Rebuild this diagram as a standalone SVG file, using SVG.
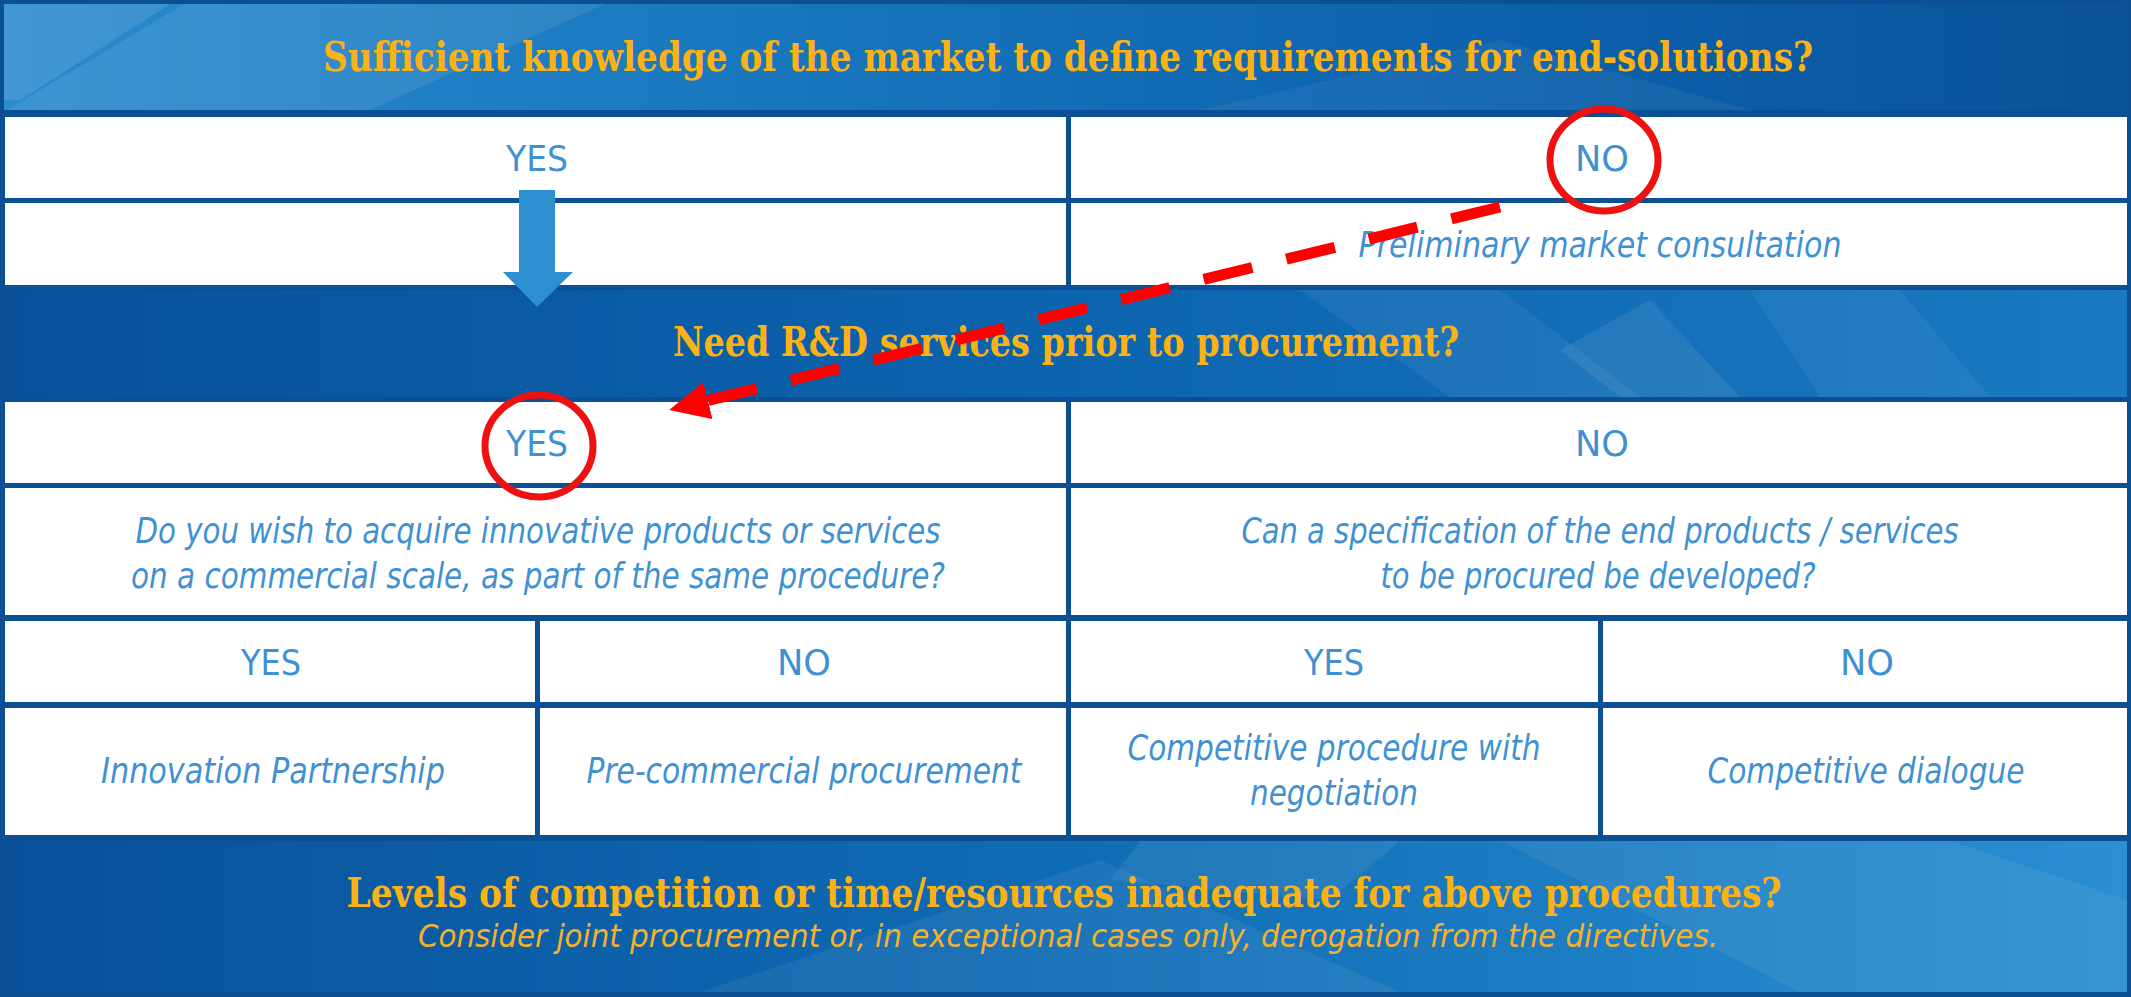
<svg xmlns="http://www.w3.org/2000/svg" width="2131" height="997" viewBox="0 0 2131 997">
<style>
.title{font-family:"DejaVu Serif Condensed","DejaVu Serif","Liberation Serif",serif;font-weight:bold;font-size:41px;fill:#fbb216;text-anchor:middle}
.sub{font-family:"Liberation Sans Narrow","DejaVu Sans Condensed","Open Sans",sans-serif;font-style:italic;font-size:32px;fill:#f5b12a;text-anchor:middle}
.cell{fill:#ffffff}
.lbl{font-family:"Liberation Sans Narrow","DejaVu Sans Condensed","Open Sans",sans-serif;font-size:35px;fill:#3f91d2;text-anchor:middle}
.it{font-style:italic}
.ring{fill:none;stroke:#ee1111;stroke-width:7}
.deco{fill:#ffffff}
</style>
<defs>
<linearGradient id="g1" x1="0" y1="0" x2="1" y2="0">
<stop offset="0" stop-color="#2c8bcf"/>
<stop offset="0.35" stop-color="#1877bd"/>
<stop offset="0.7" stop-color="#0c62ad"/>
<stop offset="1" stop-color="#0a5299"/>
</linearGradient>
<linearGradient id="g2" x1="0" y1="0" x2="1" y2="0">
<stop offset="0" stop-color="#08519a"/>
<stop offset="0.5" stop-color="#0c64ae"/>
<stop offset="1" stop-color="#1a79c0"/>
</linearGradient>
<linearGradient id="g3" x1="0" y1="0" x2="1" y2="0">
<stop offset="0" stop-color="#08519a"/>
<stop offset="0.5" stop-color="#0f6cb4"/>
<stop offset="1" stop-color="#2c8fd2"/>
</linearGradient>
<marker id="redHead" markerUnits="userSpaceOnUse" markerWidth="40" markerHeight="38" viewBox="0 0 40 38" refX="2" refY="19" orient="auto">
<path d="M0,0 L40,19 L0,38 z" fill="#ff0000"/>
</marker>
</defs>

<rect x="0" y="0" width="2131" height="997" fill="#0b4f94"/>

<g id="band-market">
<rect x="4" y="4" width="2123" height="106" fill="url(#g1)"/>
<polygon class="deco" opacity="0.10" points="4,4 170,4 20,100 4,100"/>
<polygon class="deco" opacity="0.08" points="184,4 605,4 370,110 7,110"/>
<polygon class="deco" opacity="0.05" points="1200,110 1500,40 1750,110"/>
<text class="title" x="1068" y="71" textLength="1490" lengthAdjust="spacingAndGlyphs">Sufficient knowledge of the market to define requirements for end-solutions?</text>
</g>

<g id="yes1"><rect class="cell" x="5" y="117" width="1061" height="81"/><text class="lbl" x="537" y="171" textLength="62" lengthAdjust="spacingAndGlyphs">YES</text></g>
<g id="no1"><rect class="cell" x="1071" y="117" width="1056" height="81"/><text class="lbl" x="1602" y="171" textLength="54" lengthAdjust="spacingAndGlyphs">NO</text></g>
<g id="empty1"><rect class="cell" x="5" y="203" width="1061" height="82"/></g>
<g id="prelim"><rect class="cell" x="1071" y="203" width="1056" height="82"/><text class="lbl it" x="1600" y="257" textLength="483" lengthAdjust="spacingAndGlyphs">Preliminary market consultation</text></g>

<g id="band-rd">
<rect x="4" y="290" width="2123" height="107" fill="url(#g2)"/>
<polygon class="deco" opacity="0.06" points="1300,290 1500,290 1640,397 1450,397"/>
<polygon class="deco" opacity="0.08" points="1560,350 1650,300 1740,397 1620,397"/>
<polygon class="deco" opacity="0.05" points="1750,290 1900,290 1990,397 1820,397"/>
<text class="title" x="1066" y="356" textLength="786" lengthAdjust="spacingAndGlyphs">Need R&amp;D services prior to procurement?</text>
</g>

<g id="yes2"><rect class="cell" x="5" y="402" width="1061" height="81"/><text class="lbl" x="537" y="456" textLength="62" lengthAdjust="spacingAndGlyphs">YES</text></g>
<g id="no2"><rect class="cell" x="1071" y="402" width="1056" height="81"/><text class="lbl" x="1602" y="456" textLength="54" lengthAdjust="spacingAndGlyphs">NO</text></g>

<g id="q-commercial"><rect class="cell" x="5" y="488" width="1061" height="127"/>
<text class="lbl it" x="538" y="543" textLength="805" lengthAdjust="spacingAndGlyphs">Do you wish to acquire innovative products or services</text>
<text class="lbl it" x="538" y="588" textLength="814" lengthAdjust="spacingAndGlyphs">on a commercial scale, as part of the same procedure?</text></g>
<g id="q-spec"><rect class="cell" x="1071" y="488" width="1056" height="127"/>
<text class="lbl it" x="1600" y="543" textLength="717" lengthAdjust="spacingAndGlyphs">Can a specification of the end products / services</text>
<text class="lbl it" x="1598" y="588" textLength="435" lengthAdjust="spacingAndGlyphs">to be procured be developed?</text></g>

<g id="yes3"><rect class="cell" x="5" y="621" width="530" height="81"/><text class="lbl" x="271" y="675" textLength="60" lengthAdjust="spacingAndGlyphs">YES</text></g>
<g id="no3"><rect class="cell" x="540" y="621" width="526" height="81"/><text class="lbl" x="804" y="675" textLength="54" lengthAdjust="spacingAndGlyphs">NO</text></g>
<g id="yes4"><rect class="cell" x="1071" y="621" width="527" height="81"/><text class="lbl" x="1334" y="675" textLength="60" lengthAdjust="spacingAndGlyphs">YES</text></g>
<g id="no4"><rect class="cell" x="1603" y="621" width="524" height="81"/><text class="lbl" x="1867" y="675" textLength="54" lengthAdjust="spacingAndGlyphs">NO</text></g>

<g id="innovation-partnership"><rect class="cell" x="5" y="708" width="530" height="127"/><text class="lbl it" x="273" y="783" textLength="344" lengthAdjust="spacingAndGlyphs">Innovation Partnership</text></g>
<g id="pcp"><rect class="cell" x="540" y="708" width="526" height="127"/><text class="lbl it" x="804" y="783" textLength="435" lengthAdjust="spacingAndGlyphs">Pre-commercial procurement</text></g>
<g id="cpn"><rect class="cell" x="1071" y="708" width="527" height="127"/>
<text class="lbl it" x="1334" y="760" textLength="413" lengthAdjust="spacingAndGlyphs">Competitive procedure with</text>
<text class="lbl it" x="1334" y="805" textLength="168" lengthAdjust="spacingAndGlyphs">negotiation</text></g>
<g id="dialogue"><rect class="cell" x="1603" y="708" width="524" height="127"/><text class="lbl it" x="1866" y="783" textLength="317" lengthAdjust="spacingAndGlyphs">Competitive dialogue</text></g>

<g id="band-levels">
<rect x="4" y="841" width="2123" height="151" fill="url(#g3)"/>
<polygon class="deco" opacity="0.06" points="700,992 1100,860 1400,992"/>
<polygon class="deco" opacity="0.07" points="1140,841 1400,841 1330,900 1110,880"/>
<polygon class="deco" opacity="0.06" points="1500,841 1950,841 2127,900 2127,992 1800,992"/>
<text class="title" x="1064" y="907" textLength="1435" lengthAdjust="spacingAndGlyphs">Levels of competition or time/resources inadequate for above procedures?</text>
<text class="sub" x="1068" y="947" textLength="1300" lengthAdjust="spacingAndGlyphs">Consider joint procurement or, in exceptional cases only, derogation from the directives.</text>
</g>

<g id="connectors">
<path d="M519,190 H555 V272 H573 L537,307 L503,272 H519 Z" fill="#2b8fd0"/>
<ellipse class="ring" cx="1604" cy="160" rx="54" ry="51"/>
<ellipse class="ring" cx="539" cy="446" rx="54" ry="51"/>
<line x1="1500" y1="207" x2="706" y2="401" stroke="#ff0000" stroke-width="11" stroke-dasharray="50 35" marker-end="url(#redHead)"/>
</g>
</svg>
